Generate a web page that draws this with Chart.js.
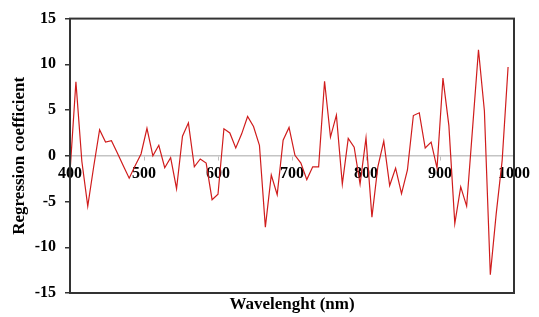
<!DOCTYPE html>
<html>
<head>
<meta charset="utf-8">
<title>Regression coefficient</title>
<script src="https://cdn.jsdelivr.net/npm/chart.js@4/dist/chart.umd.min.js"></script>
<style>
  html, body { margin: 0; padding: 0; background: #fff; }
  #wrap { width: 539px; height: 317px; position: relative; }
</style>
</head>
<body>
<div id="wrap"><canvas id="chart"></canvas></div>
<script>
const wavelengths = [
  400, 408, 416, 424, 432, 440, 448, 456, 464, 472,
  480, 488, 496, 504, 512, 520, 528, 536, 544, 552,
  560, 568, 576, 584, 592, 600, 608, 616, 624, 632,
  640, 648, 656, 664, 672, 680, 688, 696, 704, 712,
  720, 728, 736, 744, 752, 760, 768, 776, 784, 792,
  800, 808, 816, 824, 832, 840, 848, 856, 864, 872,
  880, 888, 896, 904, 912, 920, 928, 936, 944, 952,
  960, 968, 976, 984, 992
];
const coefficients = [
  -1.8, 8.1, -0.6, -5.5, -1.2, 2.85, 1.5, 1.65, 0.3, -1.1,
  -2.45, -1.1, 0.2, 3.0, 0.0, 1.15, -1.3, -0.2, -3.6, 2.15,
  3.6, -1.2, -0.35, -0.8, -4.8, -4.2, 2.95, 2.5, 0.85, 2.4,
  4.3, 3.2, 1.15, -7.8, -2.1, -4.25, 1.7, 3.1, 0.05, -0.8,
  -2.6, -1.2, -1.2, 8.15, 2.05, 4.45, -3.1, 1.9, 0.95, -3.1,
  1.95, -6.7, -1.2, 1.6, -3.25, -1.35, -4.15, -1.55, 4.4, 4.7,
  0.85, 1.5, -1.35, 8.5, 3.3, -7.4, -3.4, -5.5, 3.0, 11.6,
  4.9, -13.0, -6.3, -0.5, 9.7
];
const xTicks = [400, 500, 600, 700, 800, 900, 1000];
const yTicks = [-15, -10, -5, 0, 5, 10, 15];

const FONT = 'Liberation Serif, Times New Roman, serif';
const tickFont = { family: FONT, size: 16, weight: 'bold' };
const titleFont = { family: FONT, size: 17, weight: 'bold' };

// box around the plot area
const frame = {
  id: 'frame',
  afterDraw(chart) {
    const { ctx, chartArea: a } = chart;
    ctx.save();
    ctx.strokeStyle = '#333';
    ctx.lineWidth = 2;
    ctx.strokeRect(a.left, a.top, a.right - a.left, a.bottom - a.top);
    ctx.restore();
  },
};

new Chart(document.getElementById('chart'), {
  type: 'line',
  data: {
    datasets: [{
      data: wavelengths.map((w, i) => ({ x: w, y: coefficients[i] })),
      borderColor: '#d01c1c',
      borderWidth: 1.2,
      pointRadius: 0,
      tension: 0,
      fill: false,
    }],
  },
  options: {
    responsive: true,
    maintainAspectRatio: false,
    animation: false,
    layout: { padding: { top: 15, right: 25, left: 0, bottom: 0 } },
    plugins: {
      legend: { display: false },
      tooltip: { enabled: false },
    },
    scales: {
      x: {
        type: 'linear',
        position: { y: 0 },
        min: 400,
        max: 1000,
        afterFit(scale) { scale.height = 0; },
        afterBuildTicks(scale) { scale.ticks = xTicks.map((v) => ({ value: v })); },
        ticks: {
          font: tickFont,
          color: '#000',
          padding: 4,
          maxRotation: 0,
          autoSkip: false,
          callback: (v) => String(v),
        },
        grid: { drawOnChartArea: false, tickLength: 4, color: '#bdbdbd' },
        border: { display: true, color: '#c4c4c4', width: 1.5 },
        title: { display: false },
      },
      xTitle: {
        type: 'linear',
        axis: 'x',
        position: 'bottom',
        min: 400,
        max: 1000,
        afterFit(scale) { scale.height = 24; },
        ticks: { display: false },
        grid: { display: false },
        border: { display: false },
        title: { display: true, text: 'Wavelenght (nm)', font: titleFont, color: '#000', padding: { top: 0, bottom: 2 } },
      },
      y: {
        min: -15,
        max: 15,
        afterFit(scale) { scale.width = 70; },
        afterBuildTicks(scale) { scale.ticks = yTicks.map((v) => ({ value: v })); },
        ticks: { font: tickFont, color: '#000', padding: 9, callback: (v) => String(v) },
        grid: { drawOnChartArea: false, tickLength: 5, color: '#333', lineWidth: 1.5 },
        border: { display: true, color: '#333', width: 2 },
        title: { display: true, text: 'Regression coefficient', font: titleFont, color: '#000', padding: { top: 9, bottom: 0 } },
      },
    },
  },
  plugins: [frame],
});
</script>
</body>
</html>
